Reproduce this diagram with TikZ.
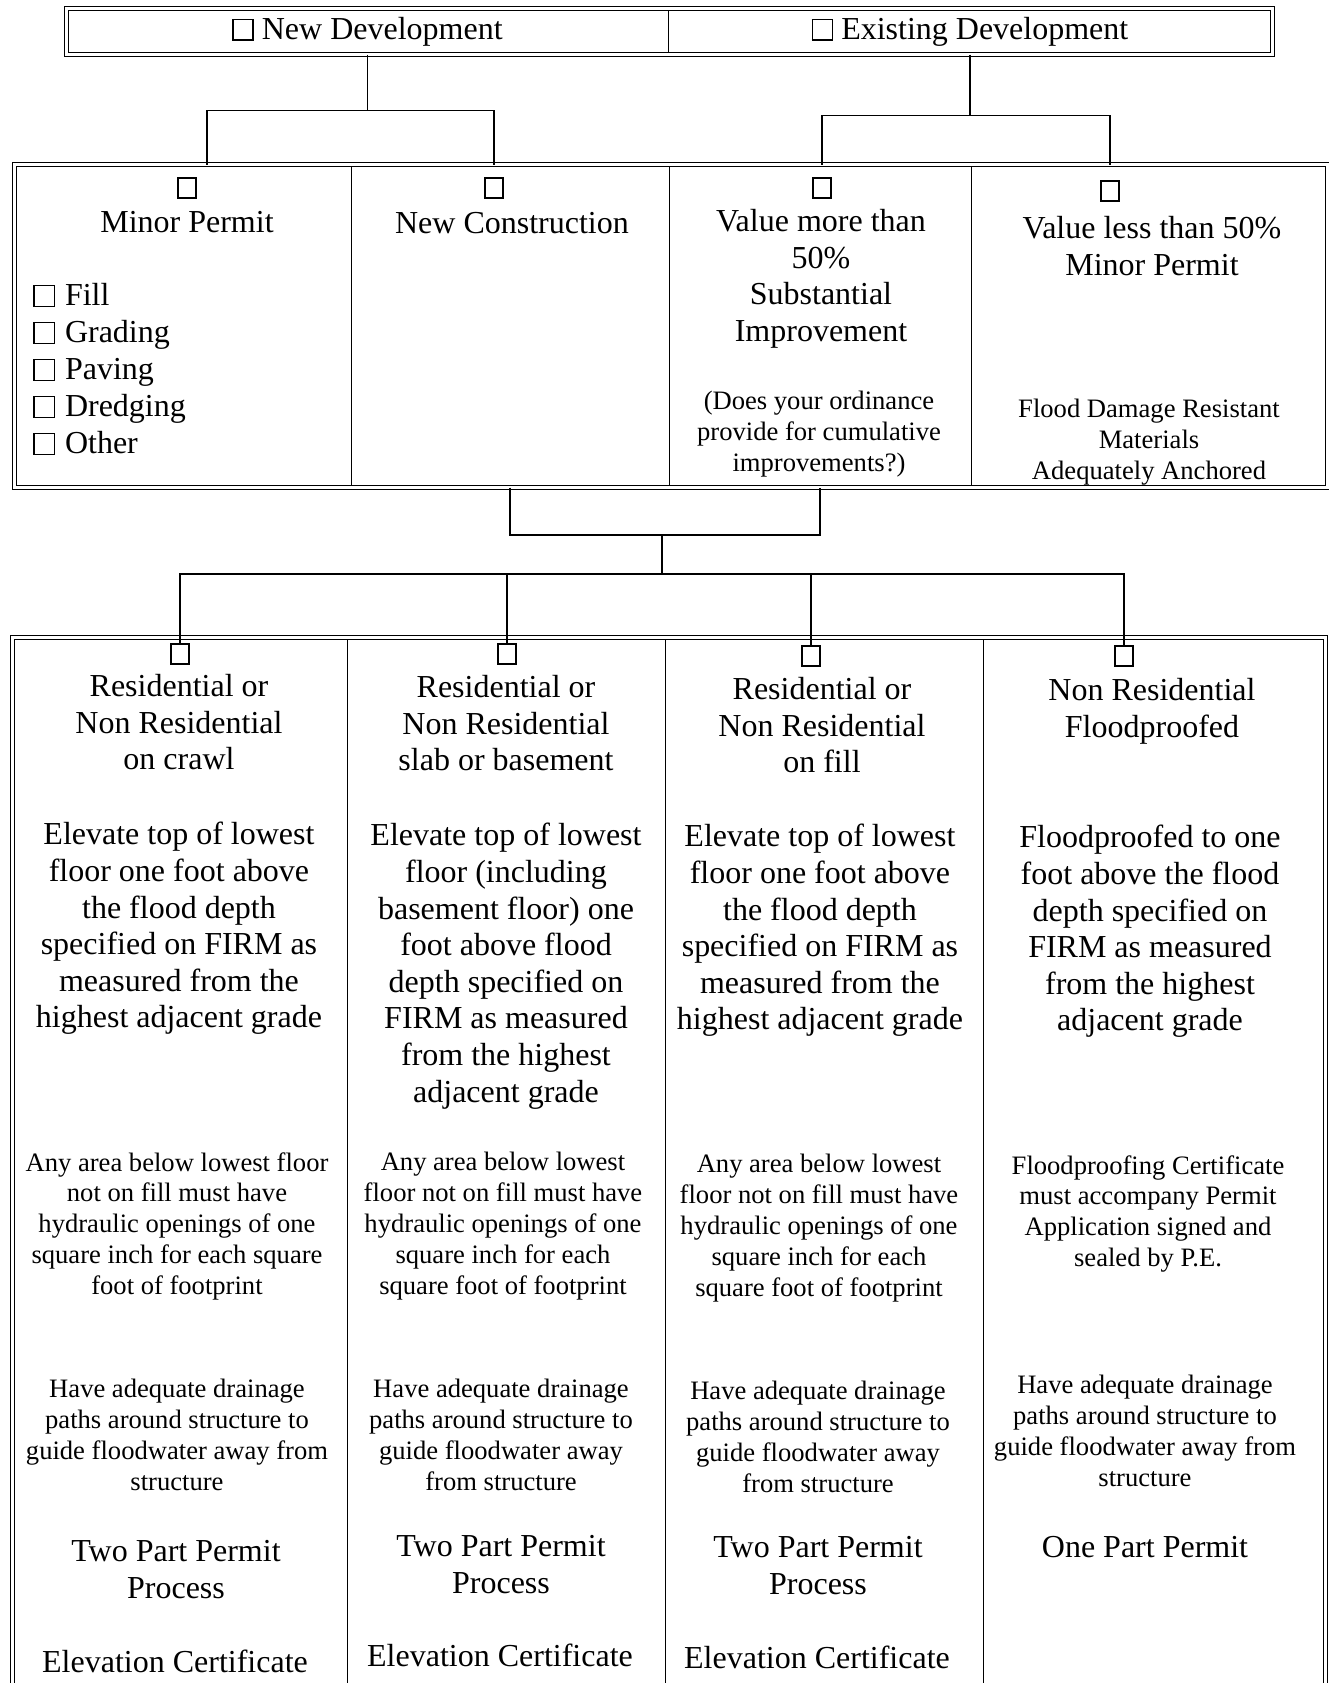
\documentclass[tikz,border=0pt]{standalone}
\usepackage{fontspec}
\setmainfont{Liberation Serif}
\usetikzlibrary{calc,positioning}

\newcommand{\chkbox}{{\setlength{\fboxsep}{0pt}\setlength{\fboxrule}{0.7pt}\fbox{\rule{0pt}{9.6pt}\hspace{9.4pt}}}}

\tikzset{
  cell/.style={draw, line width=0.5pt, inner sep=0pt},
  frame/.style={double, double distance=1.1pt, line width=0.5pt},
  chk/.style={draw, line width=0.8pt, minimum width=9pt, minimum height=10pt, inner sep=0pt},
  link/.style={line width=0.6pt},
  big/.style={font=\fontsize{16}{18.3}\selectfont, align=center, anchor=north, inner sep=0pt},
  small/.style={font=\fontsize{13.3}{15.4}\selectfont, align=center, anchor=north, inner sep=0pt}
}

\begin{document}
\begin{tikzpicture}[x=0.5pt, y=-0.5pt]

  \clip (0,0) rectangle (1329,1683);
  \fill[white] (0,0) rectangle (1329,1683);

  \node[cell, minimum width=300.5pt, minimum height=22.5pt, font=\fontsize{16}{18.3}\selectfont] (newdev) at (367.5,31.5) {\chkbox\ New Development};
  \node[cell, minimum width=302pt, minimum height=22.5pt, font=\fontsize{16}{18.3}\selectfont] (existdev) at (970,31.5) {\chkbox\ Existing Development};
  \draw[frame] (newdev.north west) rectangle (existdev.south east);

  \node[cell, minimum width=168pt, minimum height=161pt] (minor) at (183,326) {};
  \node[cell, minimum width=159pt, minimum height=161pt] (newcon) at (510,326) {};
  \node[cell, minimum width=151pt, minimum height=161pt] (valmore) at (820,326) {};
  \node[cell, minimum width=178pt, minimum height=161pt] (valless) at (1149,326) {};
  \draw[frame] (minor.north west) rectangle (valless.south east);

  \node[cell, minimum width=167pt, minimum height=541pt] (crawl) at (180,1179) {};
  \node[cell, minimum width=159pt, minimum height=541pt] (slab) at (506,1179) {};
  \node[cell, minimum width=159pt, minimum height=541pt] (fill) at (824,1179) {};
  \node[cell, minimum width=171pt, minimum height=541pt] (proof) at (1154,1179) {};
  \draw[frame] (crawl.north west) rectangle (proof.south east);

  \node[chk] (mpchk) at (187,188) {};
  \node[chk] (ncchk) at (494,188) {};
  \node[chk] (vmchk) at (822,188) {};
  \node[chk] (vlchk) at (1110,191) {};

  \node[big] (mptitle) at (187,211) {Minor Permit};
  \node[big, align=left, anchor=north west, font=\fontsize{16}{18.5}\selectfont] (mplist) at (33,283)
    {\chkbox\hspace{5pt}Fill\\ \chkbox\hspace{5pt}Grading\\ \chkbox\hspace{5pt}Paving\\ \chkbox\hspace{5pt}Dredging\\ \chkbox\hspace{5pt}Other};
  \node[big] (nctitle) at (512,212) {New Construction};
  \node[big] (vmtitle) at (821,209) {Value more than\\50\%\\Substantial\\Improvement};
  \node[small] (vmnote) at (819,391) {(Does your ordinance\\provide for cumulative\\improvements?)};
  \node[big] (vltitle) at (1152,216) {Value less than 50\%\\Minor Permit};
  \node[small] (vlnote) at (1149,399) {Flood Damage Resistant\\Materials\\Adequately Anchored};

  \draw[link] (newdev.south) -- ++(0,56) coordinate (newjoin);
  \draw[link] ([xshift=10pt]mpchk.center |- minor.north) |- (newjoin) -| (ncchk |- newcon.north);
  \draw[link] (existdev.south) -- ++(0,61) coordinate (existjoin);
  \draw[link] (vmchk |- valmore.north) |- (existjoin) -| (vlchk |- valless.north);

  \node[chk] (crawlchk) at (180,654) {};
  \node[chk] (slabchk) at (507,654) {};
  \node[chk] (fillchk) at (811,656) {};
  \node[chk] (proofchk) at (1124,656) {};

  \coordinate (upjoin) at (662,535);
  \coordinate (lowjoin) at (662,574);
  \draw[link] (newcon.south) |- (upjoin) -| (valmore.south);
  \draw[link] (upjoin) -- (lowjoin);
  \draw[link] (crawlchk.north) |- (lowjoin) -| (proofchk.north);
  \draw[link] (slabchk.north) -- (slabchk |- lowjoin);
  \draw[link] (fillchk.north) -- (fillchk |- lowjoin);

  \node[big] (crawlhead) at (179,674) {Residential or\\Non Residential\\on crawl};
  \node[big] (slabhead) at (506,675) {Residential or\\Non Residential\\slab or basement};
  \node[big] (fillhead) at (822,677) {Residential or\\Non Residential\\on fill};
  \node[big] (proofhead) at (1152,678) {Non Residential\\Floodproofed};

  \node[big] (crawlbody) at (179,822) {Elevate top of lowest\\floor one foot above\\the flood depth\\specified on FIRM as\\measured from the\\highest adjacent grade};
  \node[big] (slabbody) at (506,823) {Elevate top of lowest\\floor (including\\basement floor) one\\foot above flood\\depth specified on\\FIRM as measured\\from the highest\\adjacent grade};
  \node[big] (fillbody) at (820,824) {Elevate top of lowest\\floor one foot above\\the flood depth\\specified on FIRM as\\measured from the\\highest adjacent grade};
  \node[big] (proofbody) at (1150,825) {Floodproofed to one\\foot above the flood\\depth specified on\\FIRM as measured\\from the highest\\adjacent grade};

  \node[small] (crawlvents) at (177,1152) {Any area below lowest floor\\not on fill must have\\hydraulic openings of one\\square inch for each square\\foot of footprint};
  \node[small] (slabvents) at (503,1152) {Any area below lowest\\floor not on fill must have\\hydraulic openings of one\\square inch for each\\square foot of footprint};
  \node[small] (fillvents) at (819,1154) {Any area below lowest\\floor not on fill must have\\hydraulic openings of one\\square inch for each\\square foot of footprint};
  \node[small] (proofcert) at (1148,1155) {Floodproofing Certificate\\must accompany Permit\\Application signed and\\sealed by P.E.};

  \node[small] (crawldrain) at (177,1379) {Have adequate drainage\\paths around structure to\\guide floodwater away from\\structure};
  \node[small] (slabdrain) at (501,1379) {Have adequate drainage\\paths around structure to\\guide floodwater away\\from structure};
  \node[small] (filldrain) at (818,1381) {Have adequate drainage\\paths around structure to\\guide floodwater away\\from structure};
  \node[small] (proofdrain) at (1145,1375) {Have adequate drainage\\paths around structure to\\guide floodwater away from\\structure};

  \node[big] (crawlpermit) at (176,1540) {Two Part Permit\\Process};
  \node[big] (slabpermit) at (501,1535) {Two Part Permit\\Process};
  \node[big] (fillpermit) at (818,1536) {Two Part Permit\\Process};
  \node[big] (proofpermit) at (1145,1536) {One Part Permit};

  \node[big] (crawlcert) at (175,1650) {Elevation Certificate};
  \node[big] (slabcert) at (500,1644) {Elevation Certificate};
  \node[big] (fillcert) at (817,1646) {Elevation Certificate};

\end{tikzpicture}
\end{document}
